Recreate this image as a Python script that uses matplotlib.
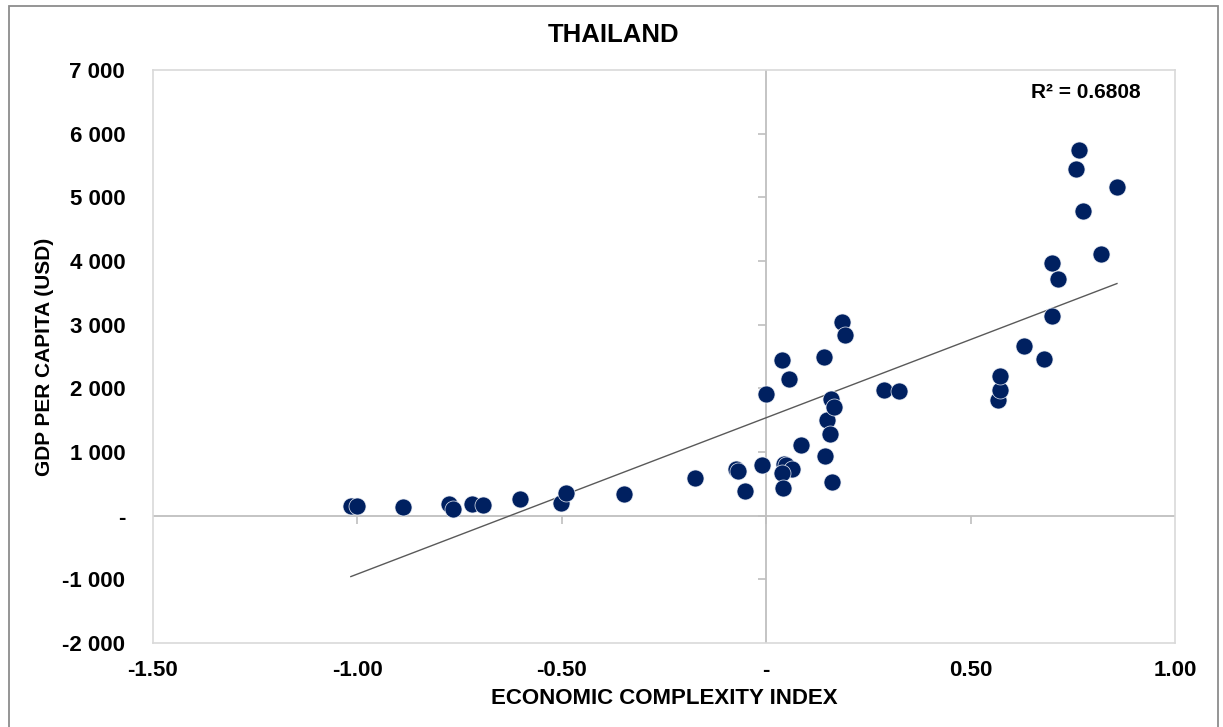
import numpy as np
import matplotlib
matplotlib.use("Agg")
import matplotlib.pyplot as plt
from matplotlib.patches import Rectangle

plt.rcParams['font.family'] = ['Liberation Sans', 'DejaVu Sans']
plt.rcParams['font.weight'] = 'bold'

# economic complexity index vs gdp per capita (usd), one point per year
eci = [-1.016, -1.001, -0.888, -0.775, -0.765, -0.720, -0.693, -0.602, -0.503,
       -0.490, -0.349, -0.174, -0.073, -0.068, -0.053, -0.010, -0.001, 0.039,
       0.056, 0.043, 0.049, 0.063, 0.039, 0.042, 0.086, 0.142, 0.145, 0.148,
       0.157, 0.159, 0.165, 0.161, 0.186, 0.193, 0.288, 0.326, 0.567, 0.573,
       0.571, 0.630, 0.680, 0.699, 0.699, 0.714, 0.757, 0.764, 0.776, 0.819,
       0.858]
gdp = [157, 146, 130, 184, 110, 184, 173, 267, 200,
       350, 335, 586, 738, 707, 382, 801, 1917, 2446,
       2141, 817, 790, 738, 671, 429, 1111, 2493, 932, 1504,
       1284, 1827, 1708, 523, 3037, 2833, 1975, 1953, 1811, 1975,
       2195, 2671, 2462, 3131, 3964, 3723, 5452, 5750, 4787, 4105,
       5169]

x_ticks = [-1.5, -1.0, -0.5, 0.0, 0.5, 1.0]
x_tick_labels = ['-1.50', '-1.00', '-0.50', '-', '0.50', '1.00']
y_ticks = [-2000, -1000, 0, 1000, 2000, 3000, 4000, 5000, 6000, 7000]
y_tick_labels = ['-2 000', '-1 000', '-', '1 000', '2 000', '3 000',
                 '4 000', '5 000', '6 000', '7 000']
r2_text = 'R² = 0.6808'

W, H = 1223, 727
fig = plt.figure(figsize=(W / 100, H / 100), dpi=100)
fig.patch.set_facecolor('white')

# outer chart frame
fig.patches.append(Rectangle((9 / W, -0.05), (1218 - 9) / W, 1.05 - 6 / H,
                             transform=fig.transFigure, fill=False,
                             edgecolor='#8c8c8c', linewidth=1.3))

ax = fig.add_axes([153 / W, 1 - 643 / H, (1175 - 153) / W, (643 - 70) / H])
ax.set_xlim(-1.5, 1.0)
ax.set_ylim(-2000, 7000)

for s in ax.spines.values():
    s.set_color('#d9d9d9')
    s.set_linewidth(1.2)

ax.set_xticks(x_ticks)
ax.set_xticklabels(x_tick_labels)
ax.set_yticks(y_ticks)
ax.set_yticklabels(y_tick_labels)
ax.tick_params(axis='both', length=0, labelsize=16)
ax.tick_params(axis='x', pad=12)
ax.tick_params(axis='y', pad=20)

# axes crossing at zero with small tick marks
ax.axhline(0, color='#bfbfbf', lw=1.3, zorder=1)
ax.axvline(0, color='#bfbfbf', lw=1.3, zorder=1)
ax.plot(x_ticks[1:-1], np.zeros(len(x_ticks) - 2), ls='none', marker=3,
        ms=6, mew=1.2, color='#bfbfbf', zorder=1)
ax.plot(np.zeros(len(y_ticks) - 2), y_ticks[1:-1], ls='none', marker=0,
        ms=6, mew=1.2, color='#bfbfbf', zorder=1)

x = np.array(eci)
y = np.array(gdp)
ax.scatter(x, y, s=150, color='#002060', edgecolors='#e8ecf4', linewidths=0.5,
           zorder=3)

# linear trend
k, b = np.polyfit(x, y, 1)
xs = np.array([x.min(), x.max()])
ax.plot(xs, k * xs + b, color='#595959', lw=1.0, zorder=2)

ax.set_xlabel('ECONOMIC COMPLEXITY INDEX', fontsize=16, fontweight='bold',
              labelpad=5)
ax.set_ylabel('GDP PER CAPITA (USD)', fontsize=15, fontweight='bold',
              labelpad=6)

fig.text(614 / W, 1 - 35 / H, 'THAILAND', ha='center', va='center',
         fontsize=18.5, fontweight='bold')
fig.text(1086 / W, 1 - 93 / H, r2_text, ha='center', va='center',
         fontsize=15, fontweight='bold')

fig.savefig('out.png', dpi=100)
